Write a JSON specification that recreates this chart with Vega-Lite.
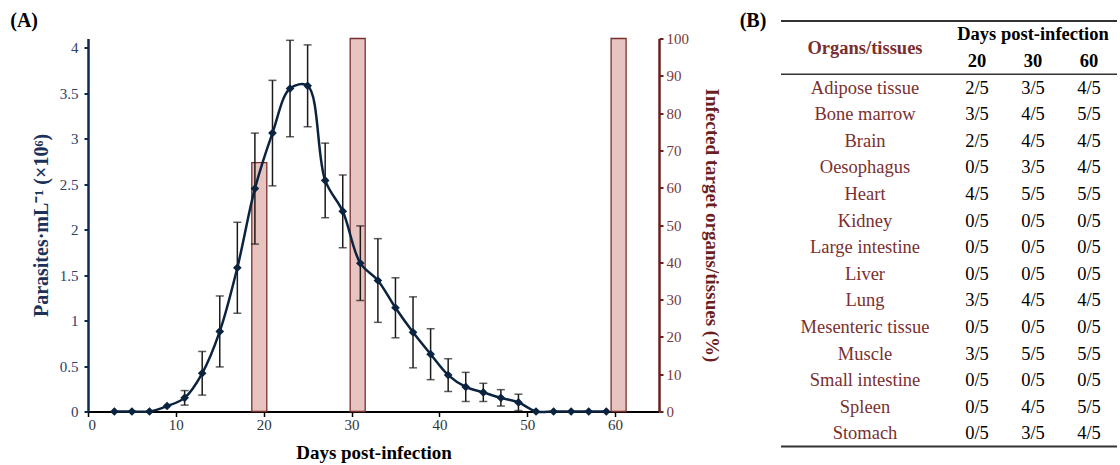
{
  "$schema": "https://vega.github.io/schema/vega-lite/v6.json",
  "padding": {"left": 10, "top": 10.5, "right": 0, "bottom": 0},
  "background": "white",
  "config": {"font": "Liberation Serif", "view": {"stroke": null}, "axis": {"grid": false}},
  "spacing": 4,
  "datasets": {
    "series": [
      {"day": 3, "mean": 0, "err": 0},
      {"day": 5, "mean": 0, "err": 0},
      {"day": 7, "mean": 0, "err": 0},
      {"day": 9, "mean": 0.06, "err": 0},
      {"day": 11, "mean": 0.15, "err": 0.08},
      {"day": 13, "mean": 0.42, "err": 0.24},
      {"day": 15, "mean": 0.88, "err": 0.39},
      {"day": 17, "mean": 1.58, "err": 0.5},
      {"day": 19, "mean": 2.45, "err": 0.61},
      {"day": 21, "mean": 3.06, "err": 0.58},
      {"day": 23, "mean": 3.55, "err": 0.53},
      {"day": 25, "mean": 3.58, "err": 0.45},
      {"day": 27, "mean": 2.54, "err": 0.41},
      {"day": 29, "mean": 2.2, "err": 0.4},
      {"day": 31, "mean": 1.63, "err": 0.41},
      {"day": 33, "mean": 1.44, "err": 0.46},
      {"day": 35, "mean": 1.14, "err": 0.33},
      {"day": 37, "mean": 0.87, "err": 0.39},
      {"day": 39, "mean": 0.63, "err": 0.28},
      {"day": 41, "mean": 0.4, "err": 0.18},
      {"day": 43, "mean": 0.27, "err": 0.16},
      {"day": 45, "mean": 0.21, "err": 0.1},
      {"day": 47, "mean": 0.15, "err": 0.09},
      {"day": 49, "mean": 0.1, "err": 0.09},
      {"day": 51, "mean": 0, "err": 0},
      {"day": 53, "mean": 0, "err": 0},
      {"day": 55, "mean": 0, "err": 0},
      {"day": 57, "mean": 0, "err": 0},
      {"day": 59, "mean": 0, "err": 0}
    ],
    "bars": [
      {"day": 19.5, "pct": 66.7},
      {"day": 30.7, "pct": 100},
      {"day": 60.4, "pct": 100}
    ],
    "table": [
      {"organ": "Adipose tissue", "20": "2/5", "30": "3/5", "60": "4/5"},
      {"organ": "Bone marrow", "20": "3/5", "30": "4/5", "60": "5/5"},
      {"organ": "Brain", "20": "2/5", "30": "4/5", "60": "4/5"},
      {"organ": "Oesophagus", "20": "0/5", "30": "3/5", "60": "4/5"},
      {"organ": "Heart", "20": "4/5", "30": "5/5", "60": "5/5"},
      {"organ": "Kidney", "20": "0/5", "30": "0/5", "60": "0/5"},
      {"organ": "Large intestine", "20": "0/5", "30": "0/5", "60": "0/5"},
      {"organ": "Liver", "20": "0/5", "30": "0/5", "60": "0/5"},
      {"organ": "Lung", "20": "3/5", "30": "4/5", "60": "4/5"},
      {"organ": "Mesenteric tissue", "20": "0/5", "30": "0/5", "60": "0/5"},
      {"organ": "Muscle", "20": "3/5", "30": "5/5", "60": "5/5"},
      {"organ": "Small intestine", "20": "0/5", "30": "0/5", "60": "0/5"},
      {"organ": "Spleen", "20": "0/5", "30": "4/5", "60": "5/5"},
      {"organ": "Stomach", "20": "0/5", "30": "3/5", "60": "4/5"}
    ],
    "days": [{"day": "20"}, {"day": "30"}, {"day": "60"}]
  },
  "hconcat": [
    {
      "width": 571,
      "height": 373,
      "title": {"text": "(A)", "anchor": "start", "frame": "bounds", "fontSize": 20, "fontWeight": "bold", "color": "black", "dx": -21, "offset": 0.5},
      "resolve": {"scale": {"y": "independent"}},
      "layer": [
        {
          "data": {"name": "bars"},
          "mark": {"type": "bar", "orient": "vertical", "size": 15, "fill": "#e8c4c0", "stroke": "#7a2e2e", "strokeWidth": 1.3},
          "encoding": {
            "x": {"field": "day", "type": "quantitative", "scale": {"domain": [0, 65], "nice": false, "padding": 0}, "axis": {"values": [0, 10, 20, 30, 40, 50, 60], "title": "Days post-infection", "titleFontSize": 19, "titleFontWeight": "bold", "titleColor": "black", "titlePadding": 11, "labelFontSize": 15, "labelColor": "#333333", "domainColor": "black", "domainWidth": 2, "tickColor": "black", "tickWidth": 1.5, "tickSize": 5, "labelPadding": 1}},
            "y": {"field": "pct", "type": "quantitative", "scale": {"domain": [0, 100], "nice": false}, "axis": {"orient": "right", "values": [0, 10, 20, 30, 40, 50, 60, 70, 80, 90, 100], "title": "Infected target organs/tissues (%)", "titleFontSize": 19, "titleFontWeight": "bold", "titleColor": "#6b1f1f", "titlePadding": 13, "labelFontSize": 15, "labelColor": "#7a3838", "domainColor": "#6b1f1f", "domainWidth": 2.5, "tickColor": "#6b1f1f", "tickWidth": 2, "tickSize": 4, "labelPadding": 3}}
          }
        },
        {
          "data": {"name": "series"},
          "encoding": {
            "x": {"field": "day", "type": "quantitative", "scale": {"domain": [0, 65], "nice": false, "padding": 0}},
            "y": {"field": "mean", "type": "quantitative", "scale": {"domain": [0, 4.1], "nice": false}, "axis": {"orient": "left", "values": [0, 0.5, 1, 1.5, 2, 2.5, 3, 3.5, 4], "format": "~g", "title": "Parasites·mL⁻¹ (×10⁶)", "titleFontSize": 20, "titleFontWeight": "bold", "titleColor": "#1b3157", "titlePadding": 8, "labelFontSize": 15, "labelColor": "#2e4066", "domainColor": "#0e2a4f", "domainWidth": 2.5, "tickColor": "#0e2a4f", "tickWidth": 2, "tickSize": 4, "labelPadding": 6}}
          },
          "layer": [
            {
              "transform": [{"filter": "datum.err > 0"}],
              "mark": {"type": "errorbar", "color": "#1a1a1a", "ticks": {"size": 8, "thickness": 1.5}, "rule": {"strokeWidth": 1.5}},
              "encoding": {"yError": {"field": "err"}}
            },
            {
              "mark": {"type": "line", "interpolate": "catmull-rom", "color": "#0c2340", "strokeWidth": 2.5}
            },
            {
              "mark": {"type": "point", "shape": "diamond", "filled": true, "size": 75, "color": "#0c2340", "opacity": 1}
            }
          ]
        }
      ]
    },
    {
      "width": 392,
      "height": 373,
      "encoding": {
        "x": {"type": "nominal", "scale": {"type": "band", "domain": ["label", "organ_a", "organ", "organ_b", "20", "30", "60"], "paddingInner": 0, "paddingOuter": 0}, "axis": null},
        "y": {"type": "nominal", "scale": {"type": "band", "domain": ["h1", "h2", "Adipose tissue", "Bone marrow", "Brain", "Oesophagus", "Heart", "Kidney", "Large intestine", "Liver", "Lung", "Mesenteric tissue", "Muscle", "Small intestine", "Spleen", "Stomach"], "range": [-17.5, 408.1], "paddingInner": 0, "paddingOuter": 0}, "axis": null}
      },
      "layer": [
        {
          "data": {"name": "table"},
          "mark": {"type": "text", "fontSize": 18.5, "color": "#7a2f2f"},
          "encoding": {
            "x": {"datum": "organ"},
            "y": {"field": "organ"},
            "text": {"field": "organ"}
          }
        },
        {
          "data": {"name": "table"},
          "transform": [{"fold": ["20", "30", "60"], "as": ["day", "frac"]}],
          "mark": {"type": "text", "fontSize": 18.5, "color": "black"},
          "encoding": {
            "x": {"field": "day"},
            "y": {"field": "organ"},
            "text": {"field": "frac"}
          }
        },
        {
          "data": {"name": "days"},
          "mark": {"type": "text", "fontSize": 18.5, "fontWeight": "bold", "color": "black"},
          "encoding": {
            "x": {"field": "day"},
            "y": {"datum": "h2"},
            "text": {"field": "day"}
          }
        },
        {
          "data": {"values": [{}]},
          "mark": {"type": "text", "fontSize": 18.5, "fontWeight": "bold", "color": "black"},
          "encoding": {
            "x": {"datum": "30"},
            "y": {"datum": "h1"},
            "text": {"value": "Days post-infection"}
          }
        },
        {
          "data": {"values": [{}]},
          "mark": {"type": "text", "fontSize": 18.5, "fontWeight": "bold", "color": "#7a2f2f"},
          "encoding": {
            "x": {"datum": "organ"},
            "y": {"datum": "h1", "bandPosition": 1},
            "text": {"value": "Organs/tissues"}
          }
        },
        {
          "data": {"values": [{}]},
          "mark": {"type": "text", "fontSize": 20, "fontWeight": "bold", "color": "black"},
          "encoding": {
            "x": {"datum": "label"},
            "y": {"datum": "h1", "bandPosition": 0},
            "text": {"value": "(B)"}
          }
        },
        {
          "data": {"values": [{}]},
          "mark": {"type": "rule", "color": "#333333", "strokeWidth": 2},
          "encoding": {
            "x": {"datum": "organ_a", "bandPosition": 0},
            "x2": {"datum": "60", "bandPosition": 1},
            "y": {"datum": "h1", "bandPosition": 0}
          }
        },
        {
          "data": {"values": [{}]},
          "mark": {"type": "rule", "color": "#333333", "strokeWidth": 1.6},
          "encoding": {
            "x": {"datum": "organ_a", "bandPosition": 0},
            "x2": {"datum": "60", "bandPosition": 1},
            "y": {"datum": "Adipose tissue", "bandPosition": 0}
          }
        },
        {
          "data": {"values": [{}]},
          "mark": {"type": "rule", "color": "#333333", "strokeWidth": 2},
          "encoding": {
            "x": {"datum": "organ_a", "bandPosition": 0},
            "x2": {"datum": "60", "bandPosition": 1},
            "y": {"datum": "Stomach", "bandPosition": 1}
          }
        }
      ]
    }
  ]
}
